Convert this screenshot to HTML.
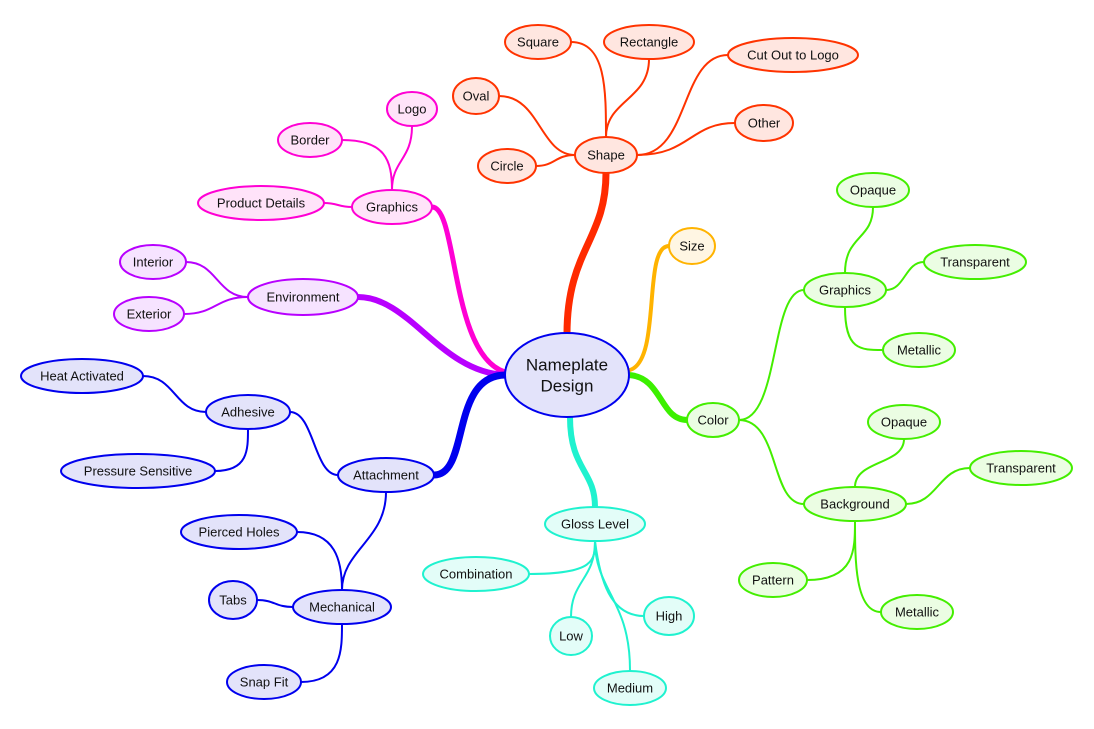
<!DOCTYPE html>
<html><head><meta charset="utf-8"><style>
html,body{margin:0;padding:0;background:#fff;}
svg{display:block;}
text{font-family:"Liberation Sans",Arial,sans-serif;font-size:13px;fill:#111;text-anchor:middle;dominant-baseline:central;}
</style></head><body>
<svg width="1094" height="729" viewBox="0 0 1094 729" xmlns="http://www.w3.org/2000/svg">
<g fill="none" stroke-linecap="round">
<!-- thick branches -->
<path d="M567 334 C567 250,606 240,606 173" stroke="#ff2a00" stroke-width="7"/>
<path d="M505 372 C450 355,458 207,432 207" stroke="#ff00d4" stroke-width="5"/>
<path d="M505 375 C440 372,410 297,358 297" stroke="#b800ff" stroke-width="6"/>
<path d="M505 375 C450 376,470 475,434 475" stroke="#0000ee" stroke-width="7"/>
<path d="M630 370 C662 360,642 246,669 246" stroke="#ffb300" stroke-width="4"/>
<path d="M629 375 C662 377,660 420,687 420" stroke="#3cf000" stroke-width="6"/>
<path d="M570 417 C570 470,595 470,595 507" stroke="#1ff2cf" stroke-width="6"/>
<!-- blue -->
<g stroke="#0000ee" stroke-width="2">
<path d="M143 376 C175 376,175 412,206 412"/>
<path d="M290 412 C314 412,314 475,338 475"/>
<path d="M215 471 C248 471,248 450,248 429"/>
<path d="M386 492 C386 540,342 550,342 590"/>
<path d="M297 532 C335 532,342 560,342 590"/>
<path d="M257 600 C275 600,275 607,293 607"/>
<path d="M301 682 C342 682,342 650,342 624"/>
</g>
<g stroke="#ff3300" stroke-width="2">
<path d="M571 42 C606 42,606 90,606 137"/>
<path d="M649 59 C649 100,606 100,606 137"/>
<path d="M499 96 C540 96,540 155,575 155"/>
<path d="M536 166 C555 166,555 155,575 155"/>
<path d="M728 55 C680 55,690 155,637 155"/>
<path d="M735 123 C690 123,690 155,637 155"/>
</g>
<g stroke="#ff00d4" stroke-width="2">
<path d="M412 126 C412 160,392 160,392 190"/>
<path d="M342 140 C385 140,392 160,392 190"/>
<path d="M324 203 C338 203,338 207,352 207"/>
</g>
<g stroke="#b800ff" stroke-width="2">
<path d="M186 262 C217 262,217 297,248 297"/>
<path d="M184 314 C216 314,216 297,248 297"/>
</g>
<g stroke="#44ee00" stroke-width="2">
<path d="M739 420 C780 420,770 290,804 290"/>
<path d="M739 420 C780 420,770 504,804 504"/>
<path d="M845 273 C845 235,873 240,873 207"/>
<path d="M886 290 C905 290,905 262,924 262"/>
<path d="M845 307 C845 350,860 350,883 350"/>
<path d="M855 487 C855 460,904 465,904 439"/>
<path d="M906 504 C938 504,938 468,970 468"/>
<path d="M807 580 C855 580,855 550,855 521"/>
<path d="M881 612 C855 612,855 560,855 521"/>
</g>
<g stroke="#1ff2cf" stroke-width="2">
<path d="M529 574 C595 574,595 560,595 541"/>
<path d="M571 617 C571 580,595 580,595 541"/>
<path d="M644 616 C610 616,600 580,595 541"/>
<path d="M630 670 C630 600,595 590,595 541"/>
</g>
</g>
<!-- nodes -->
<g stroke-width="2">
<ellipse cx="567" cy="375" rx="62" ry="42" fill="#e3e3fa" stroke="#0000ee"/>
<g fill="#ffe6e0" stroke="#ff3300">
<ellipse cx="606" cy="155" rx="31" ry="18"/>
<ellipse cx="538" cy="42" rx="33" ry="17"/>
<ellipse cx="649" cy="42" rx="45" ry="17"/>
<ellipse cx="793" cy="55" rx="65" ry="17"/>
<ellipse cx="476" cy="96" rx="23" ry="18"/>
<ellipse cx="764" cy="123" rx="29" ry="18"/>
<ellipse cx="507" cy="166" rx="29" ry="17"/>
</g>
<g fill="#ffe3f9" stroke="#ff00d4">
<ellipse cx="392" cy="207" rx="40" ry="17"/>
<ellipse cx="412" cy="109" rx="25" ry="17"/>
<ellipse cx="310" cy="140" rx="32" ry="17"/>
<ellipse cx="261" cy="203" rx="63" ry="17"/>
</g>
<g fill="#f6e3ff" stroke="#b800ff">
<ellipse cx="303" cy="297" rx="55" ry="18"/>
<ellipse cx="153" cy="262" rx="33" ry="17"/>
<ellipse cx="149" cy="314" rx="35" ry="17"/>
</g>
<ellipse cx="692" cy="246" rx="23" ry="18" fill="#fff6e3" stroke="#ffb300"/>
<g fill="#ebfde3" stroke="#44ee00">
<ellipse cx="713" cy="420" rx="26" ry="17"/>
<ellipse cx="845" cy="290" rx="41" ry="17"/>
<ellipse cx="873" cy="190" rx="36" ry="17"/>
<ellipse cx="975" cy="262" rx="51" ry="17"/>
<ellipse cx="919" cy="350" rx="36" ry="17"/>
<ellipse cx="855" cy="504" rx="51" ry="17"/>
<ellipse cx="904" cy="422" rx="36" ry="17"/>
<ellipse cx="1021" cy="468" rx="51" ry="17"/>
<ellipse cx="773" cy="580" rx="34" ry="17"/>
<ellipse cx="917" cy="612" rx="36" ry="17"/>
</g>
<g fill="#e3fdf8" stroke="#1ff2cf">
<ellipse cx="595" cy="524" rx="50" ry="17"/>
<ellipse cx="476" cy="574" rx="53" ry="17"/>
<ellipse cx="571" cy="636" rx="21" ry="19"/>
<ellipse cx="669" cy="616" rx="25" ry="19"/>
<ellipse cx="630" cy="688" rx="36" ry="17"/>
</g>
<g fill="#e3e3fa" stroke="#0000ee">
<ellipse cx="386" cy="475" rx="48" ry="17"/>
<ellipse cx="248" cy="412" rx="42" ry="17"/>
<ellipse cx="82" cy="376" rx="61" ry="17"/>
<ellipse cx="138" cy="471" rx="77" ry="17"/>
<ellipse cx="342" cy="607" rx="49" ry="17"/>
<ellipse cx="239" cy="532" rx="58" ry="17"/>
<ellipse cx="233" cy="600" rx="24" ry="19"/>
<ellipse cx="264" cy="682" rx="37" ry="17"/>
</g>
</g>
<text x="567" y="365" style="font-size:17px">Nameplate</text>
<text x="567" y="386" style="font-size:17px">Design</text>
<text x="606" y="155">Shape</text>
<text x="538" y="42">Square</text>
<text x="649" y="42">Rectangle</text>
<text x="793" y="55">Cut Out to Logo</text>
<text x="476" y="96">Oval</text>
<text x="764" y="123">Other</text>
<text x="507" y="166">Circle</text>
<text x="392" y="207">Graphics</text>
<text x="412" y="109">Logo</text>
<text x="310" y="140">Border</text>
<text x="261" y="203">Product Details</text>
<text x="303" y="297">Environment</text>
<text x="153" y="262">Interior</text>
<text x="149" y="314">Exterior</text>
<text x="692" y="246">Size</text>
<text x="713" y="420">Color</text>
<text x="845" y="290">Graphics</text>
<text x="873" y="190">Opaque</text>
<text x="975" y="262">Transparent</text>
<text x="919" y="350">Metallic</text>
<text x="855" y="504">Background</text>
<text x="904" y="422">Opaque</text>
<text x="1021" y="468">Transparent</text>
<text x="773" y="580">Pattern</text>
<text x="917" y="612">Metallic</text>
<text x="595" y="524">Gloss Level</text>
<text x="476" y="574">Combination</text>
<text x="571" y="636">Low</text>
<text x="669" y="616">High</text>
<text x="630" y="688">Medium</text>
<text x="386" y="475">Attachment</text>
<text x="248" y="412">Adhesive</text>
<text x="82" y="376">Heat Activated</text>
<text x="138" y="471">Pressure Sensitive</text>
<text x="342" y="607">Mechanical</text>
<text x="239" y="532">Pierced Holes</text>
<text x="233" y="600">Tabs</text>
<text x="264" y="682">Snap Fit</text>
</svg>
</body></html>
